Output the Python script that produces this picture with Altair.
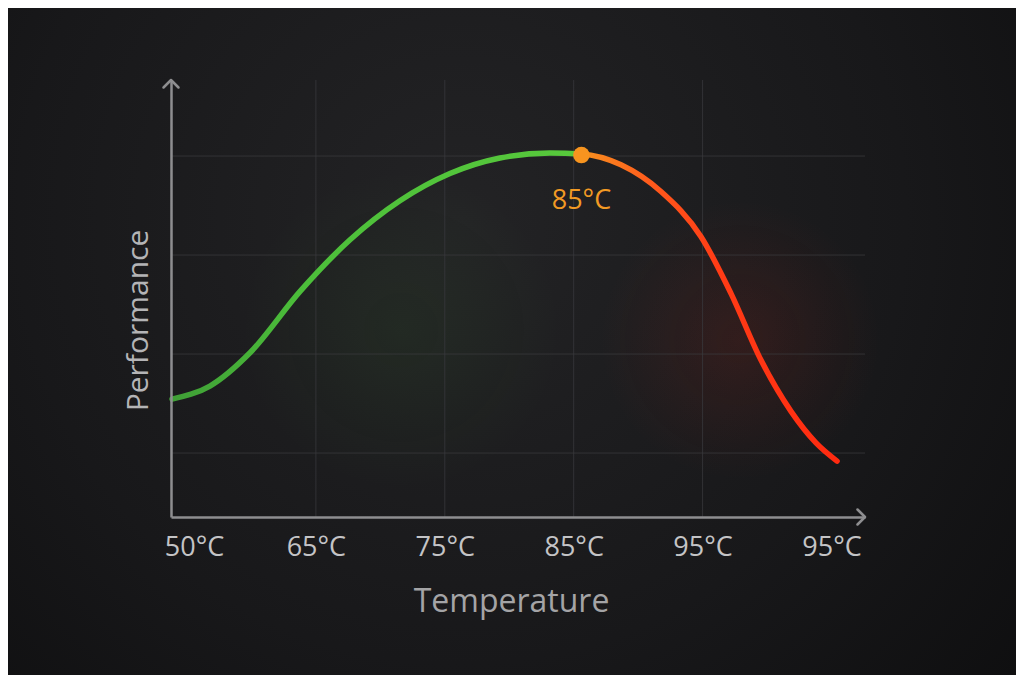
import altair as alt
import pandas as pd

# ---- data ----
# x positions are the index of the temperature tick labels (0 = "50°C" ... 5 = last "95°C")
temp_idx = [-0.116, 0.178, 0.489, 0.877, 1.265, 1.652, 2.040, 2.428, 2.816, 3.057,
            3.367, 3.677, 3.988, 4.220, 4.453, 4.686, 4.880, 5.043]
perf = [1.545, 1.677, 2.013, 2.633, 3.154, 3.548, 3.823, 3.980, 4.030, 4.020,
        3.911, 3.641, 3.185, 2.613, 1.939, 1.421, 1.103, 0.919]

tick_pos = [0, 1, 2, 3, 4, 5]
tick_labels = ["50°C", "65°C", "75°C", "85°C", "95°C", "95°C"]
x_grid = [1, 2, 3, 4]
y_grid = [1, 2, 3, 4]

peak_t = [3.06]
peak_p = [4.01]
peak_label = ["85°C"]

x_dom = [-0.124, 5.26]
y_dom = [0.354, 4.768]

FONT = "Open Sans"
AXIS_COL = "#8e8e90"

curve_df = pd.DataFrame({"t": temp_idx, "p": perf})
peak_df = pd.DataFrame({"t": peak_t, "p": peak_p, "label": peak_label})
xg_df = pd.DataFrame({"t": x_grid})
yg_df = pd.DataFrame({"p": y_grid})
arrow_up_df = pd.DataFrame({"t": [x_dom[0]], "p": [y_dom[1]]})
arrow_rt_df = pd.DataFrame({"t": [x_dom[1]], "p": [y_dom[0]]})

xscale = alt.Scale(domain=x_dom, nice=False, zero=False)
yscale = alt.Scale(domain=y_dom, nice=False, zero=False)

label_js = "[" + ",".join("'" + s + "'" for s in tick_labels) + "]"

x_axis = alt.Axis(
    values=tick_pos,
    labelExpr=label_js + "[round(datum.value)]",
    grid=False, ticks=False,
    domainColor=AXIS_COL, domainWidth=2.5,
    labelFont=FONT, labelFontSize=27, labelColor="#c4c4c6",
    labelPadding=17, labelFlush=False, labelOverlap=False,
    labelOffset={"condition": {"test": "datum.value < 0.5", "value": 7}, "value": 0},
    title="Temperature", titleFont=FONT, titleFontSize=32, titleFontWeight="normal",
    titleColor="#a4a4a6", titleX=340, titleY=94, titleAlign="center",
    titleBaseline="alphabetic", zindex=1,
)
y_axis = alt.Axis(
    values=[], labels=False, ticks=False, grid=False,
    domainColor=AXIS_COL, domainWidth=2.5,
    title="Performance", titleFont=FONT, titleFontSize=30, titleFontWeight="normal",
    titleColor="#b4b4b6", titleX=-24, titleY=240, titleAngle=270, titleAlign="center",
    titleBaseline="alphabetic", zindex=1,
)

one = alt.Data(values=[{}])

bg = alt.Chart(one).mark_rect(
    fill=alt.Gradient(
        gradient="radial",
        stops=[alt.GradientStop(offset=0, color="#232325"),
               alt.GradientStop(offset=0.55, color="#18181a"),
               alt.GradientStop(offset=1, color="#0c0c0d")],
        x1=0.45, y1=0.38, r1=0, x2=0.45, y2=0.38, r2=0.8,
    )
).encode(x=alt.value(-163), x2=alt.value(845), y=alt.value(-72), y2=alt.value(595))

red_glow = alt.Chart(one).mark_rect(
    fill=alt.Gradient(
        gradient="radial",
        stops=[alt.GradientStop(offset=0, color="rgba(255,40,20,0.10)"),
               alt.GradientStop(offset=0.6, color="rgba(255,40,20,0.04)"),
               alt.GradientStop(offset=1, color="rgba(255,40,20,0)")],
        x1=0.5, y1=0.5, r1=0, x2=0.5, y2=0.5, r2=0.5,
    )
).encode(x=alt.value(429), x2=alt.value(709), y=alt.value(120), y2=alt.value(400))

green_glow = alt.Chart(one).mark_rect(
    fill=alt.Gradient(
        gradient="radial",
        stops=[alt.GradientStop(offset=0, color="rgba(80,200,60,0.06)"),
               alt.GradientStop(offset=0.6, color="rgba(80,200,60,0.025)"),
               alt.GradientStop(offset=1, color="rgba(80,200,60,0)")],
        x1=0.5, y1=0.5, r1=0, x2=0.5, y2=0.5, r2=0.5,
    )
).encode(x=alt.value(70), x2=alt.value(390), y=alt.value(90), y2=alt.value(410))

vgrid = alt.Chart(xg_df).mark_rule(color="#3a3a3e", strokeWidth=1, opacity=0.75).encode(
    x=alt.X("t:Q", scale=xscale, axis=x_axis)
)
hgrid = alt.Chart(yg_df).mark_rule(color="#3a3a3e", strokeWidth=1, opacity=0.75).encode(
    y=alt.Y("p:Q", scale=yscale, axis=y_axis)
)

line = alt.Chart(curve_df).mark_line(
    interpolate="monotone", strokeWidth=5.5, strokeCap="round",
    color=alt.Gradient(
        gradient="linear",
        stops=[alt.GradientStop(offset=0, color="#3f9e36"),
               alt.GradientStop(offset=0.2, color="#4cbf3a"),
               alt.GradientStop(offset=0.612, color="#58c93c"),
               alt.GradientStop(offset=0.62, color="#f8901f"),
               alt.GradientStop(offset=0.72, color="#ff5a1c"),
               alt.GradientStop(offset=0.82, color="#ff3c16"),
               alt.GradientStop(offset=1, color="#ff2a10")],
        x1=0, x2=1, y1=0, y2=0,
    ),
).encode(x=alt.X("t:Q", scale=xscale), y=alt.Y("p:Q", scale=yscale))

peak_pt = alt.Chart(peak_df).mark_point(
    filled=True, size=275, color="#f7941f", opacity=1
).encode(x=alt.X("t:Q", scale=xscale), y=alt.Y("p:Q", scale=yscale))

peak_txt = alt.Chart(peak_df).mark_text(
    font=FONT, fontSize=27, color="#f29a24", dy=54, baseline="alphabetic", align="center"
).encode(x=alt.X("t:Q", scale=xscale), y=alt.Y("p:Q", scale=yscale), text="label:N")

arrow_up = alt.Chart(arrow_up_df).mark_point(
    shape="M -1 1 L 0 0 L 1 1", filled=False, size=225, strokeWidth=2.5,
    color=AXIS_COL, opacity=1, strokeCap="round", strokeJoin="round",
).encode(x=alt.X("t:Q", scale=xscale), y=alt.Y("p:Q", scale=yscale))

arrow_rt = alt.Chart(arrow_rt_df).mark_point(
    shape="M -1 -1 L 0 0 L -1 1", filled=False, size=225, strokeWidth=2.5,
    color=AXIS_COL, opacity=1, strokeCap="round", strokeJoin="round",
).encode(x=alt.X("t:Q", scale=xscale), y=alt.Y("p:Q", scale=yscale))

chart = alt.layer(
    bg, green_glow, red_glow, vgrid, hgrid, line, peak_pt, peak_txt, arrow_up, arrow_rt
).properties(
    width=694, height=437,
    autosize=alt.AutoSizeParams(type="none"),
    padding={"left": 163, "top": 72, "right": 151, "bottom": 158},
    background="#121214",
).configure_view(stroke=None)

chart.save("out.html", embed_options={"renderer": "svg", "actions": False})
